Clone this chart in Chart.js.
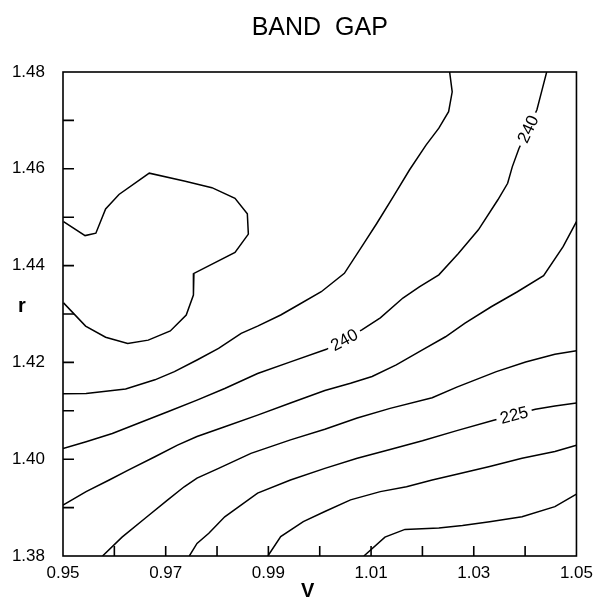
<!DOCTYPE html>
<html><head><meta charset="utf-8">
<script src="https://cdn.jsdelivr.net/npm/chart.js@4.4.0/dist/chart.umd.min.js"></script>
<style>html,body{margin:0;padding:0;background:#fff;}</style>
</head><body>
<canvas id="c" width="600" height="600"></canvas>
<script>
// ---- texts & ticks ----
const titleText = 'BAND  GAP';
const xTitle = 'V';
const yTitle = 'r';
const xTickLabels = ['0.95','0.97','0.99','1.01','1.03','1.05'];
const yTickLabels = ['1.38','1.40','1.42','1.44','1.46','1.48'];
const xTickMarks = [0.96,0.97,0.98,0.99,1.00,1.01,1.02,1.03,1.04];
const yTickMarks = [1.39,1.40,1.41,1.42,1.43,1.44,1.45,1.46,1.47];

// ---- contour lines (V, r) ----
const c1V = [0.9501,0.9543,0.9564,0.9583,0.9609,0.9668,0.9736,0.9790,0.9835,0.9859,0.9861,0.9835,0.9755,0.9754,0.9740,0.9709,0.9666,0.9626,0.9583,0.9544,0.9501];
const c1R = [1.4491,1.4462,1.4467,1.4517,1.4547,1.4591,1.4575,1.4561,1.4539,1.4507,1.4465,1.4427,1.4384,1.4339,1.4298,1.4265,1.4246,1.4239,1.4252,1.4275,1.4323];

const c2V = [1.0253,1.0258,1.0251,1.0232,1.0207,1.0175,1.0143,1.0111,1.0086,1.0048,1.0003,0.9952,0.9924,0.9879,0.9847,0.9803,0.9761,0.9717,0.9679,0.9622,0.9545,0.9500];
const c2R = [1.4800,1.4759,1.4718,1.4684,1.4649,1.4598,1.4542,1.4487,1.4446,1.4384,1.4346,1.4315,1.4298,1.4275,1.4260,1.4229,1.4205,1.4181,1.4164,1.4145,1.4136,1.4135];

const c3V = [1.0442,1.0433,1.0423,1.0388,1.0375,1.0366,1.0347,1.0309,1.0270,1.0232,1.0194,1.0162,1.0118,1.0082,1.0013,0.9943,0.9879,0.9815,0.9761,0.9704,0.9653,0.9596,0.9545,0.9500];
const c3R = [1.4800,1.4763,1.4722,1.4642,1.4604,1.4570,1.4536,1.4474,1.4425,1.4381,1.4356,1.4333,1.4292,1.4267,1.4227,1.4201,1.4177,1.4146,1.4122,1.4098,1.4077,1.4053,1.4036,1.4022];

const c4V = [1.0500,1.0474,1.0436,1.0385,1.0334,1.0283,1.0245,1.0200,1.0149,1.0102,1.0060,1.0010,0.9943,0.9879,0.9815,0.9761,0.9723,0.9679,0.9628,0.9590,0.9545,0.9500];
const c4R = [1.4491,1.4439,1.4379,1.4346,1.4315,1.4281,1.4253,1.4226,1.4195,1.4171,1.4157,1.4142,1.4116,1.4091,1.4067,1.4047,1.4029,1.4005,1.3978,1.3957,1.3933,1.3905];

const c5V = [1.0500,1.0458,1.0401,1.0344,1.0267,1.0219,1.0137,1.0073,1.0010,0.9943,0.9866,0.9803,0.9761,0.9736,0.9704,0.9660,0.9615,0.9577];
const c5R = [1.4224,1.4217,1.4201,1.4181,1.4149,1.4127,1.4105,1.4085,1.4062,1.4040,1.4012,1.3981,1.3961,1.3943,1.3916,1.3878,1.3839,1.3800];

const c6V = [1.0500,1.0458,1.0420,1.0337,1.0267,1.0200,1.0137,1.0073,1.0010,0.9943,0.9879,0.9815,0.9784,0.9761,0.9746];
const c6R = [1.4116,1.4110,1.4103,1.4080,1.4059,1.4038,1.4020,1.4002,1.3981,1.3957,1.3930,1.3881,1.3847,1.3826,1.3800];

const c7V = [1.0500,1.0458,1.0394,1.0331,1.0267,1.0219,1.0169,1.0118,1.0060,1.0010,0.9968,0.9924,0.9899];
const c7R = [1.4029,1.4016,1.4002,1.3985,1.3969,1.3957,1.3943,1.3933,1.3916,1.3892,1.3871,1.3840,1.3800];

const c8V = [1.0500,1.0458,1.0394,1.0331,1.0278,1.0232,1.0166,1.0127,1.0086];
const c8R = [1.3928,1.3902,1.3881,1.3871,1.3863,1.3858,1.3855,1.3839,1.3800];

// contour labels: text, line index, segment index
const labelTexts = ['240','240','225'];
const labelLines = [2,2,5];
const labelSegs  = [2,13,2];

const lines = [[c1V,c1R],[c2V,c2R],[c3V,c3R],[c4V,c4R],[c5V,c5R],[c6V,c6R],[c7V,c7R],[c8V,c8R]];
const FONT = '"Liberation Sans", Arial, Helvetica, sans-serif';

const decor = {
  id: 'decor',
  afterDatasetsDraw(chart) {
    const ctx = chart.ctx;
    labelTexts.forEach((t, i) => {
      const meta = chart.getDatasetMeta(labelLines[i]);
      const p0 = meta.data[labelSegs[i]], p1 = meta.data[labelSegs[i] + 1];
      let ang = Math.atan2(p1.y - p0.y, p1.x - p0.x);
      if (ang > Math.PI / 2) ang -= Math.PI;
      if (ang < -Math.PI / 2) ang += Math.PI;
      const cx = (p0.x + p1.x) / 2, cy = (p0.y + p1.y) / 2;
      ctx.save();
      ctx.translate(cx, cy);
      ctx.rotate(ang);
      ctx.font = '17px ' + FONT;
      const w = ctx.measureText(t).width;
      ctx.fillStyle = '#fff';
      ctx.fillRect(-w / 2 - 4, -8, w + 8, 16);
      ctx.fillStyle = '#000';
      ctx.textAlign = 'center';
      ctx.textBaseline = 'middle';
      ctx.fillText(t, 0, 1);
      ctx.restore();
    });
  },
  afterDraw(chart) {
    const { ctx, chartArea: a, scales } = chart;
    const x = scales.x, y = scales.y;
    ctx.save();
    ctx.strokeStyle = '#000';
    ctx.lineWidth = 1.6;
    ctx.strokeRect(a.left, a.top, a.right - a.left, a.bottom - a.top);
    ctx.beginPath();
    xTickMarks.forEach(v => { const px = x.getPixelForValue(v); ctx.moveTo(px, a.bottom); ctx.lineTo(px, a.bottom - 10); });
    yTickMarks.forEach(v => { const py = y.getPixelForValue(v); ctx.moveTo(a.left, py); ctx.lineTo(a.left + 11, py); });
    ctx.stroke();
    ctx.fillStyle = '#000';
    ctx.textAlign = 'center';
    ctx.textBaseline = 'middle';
    ctx.font = '25px ' + FONT;
    ctx.fillText(titleText, (a.left + a.right) / 2, 28);
    ctx.font = 'bold 20px ' + FONT;
    ctx.fillText(xTitle, (a.left + a.right) / 2 - 12, 591);
    ctx.fillText(yTitle, 22, 306);
    ctx.restore();
  }
};

new Chart(document.getElementById('c'), {
  type: 'scatter',
  data: {
    datasets: lines.map(([vs, rs]) => ({
      data: vs.map((v, i) => ({ x: v, y: rs[i] })),
      showLine: true,
      borderColor: '#000',
      borderWidth: 1.5,
      pointRadius: 0,
      tension: 0,
      fill: false
    }))
  },
  options: {
    responsive: false,
    animation: false,
    devicePixelRatio: 1,
    layout: { padding: { top: 72, right: 13, left: 0, bottom: 0 } },
    plugins: { legend: { display: false }, tooltip: { enabled: false }, title: { display: false } },
    scales: {
      x: {
        type: 'linear', min: 0.95, max: 1.05,
        afterBuildTicks: s => { s.ticks = xTickLabels.map(t => ({ value: parseFloat(t) })); },
        afterFit: s => { s.height = 44; },
        grid: { display: false, drawTicks: false },
        border: { display: false },
        ticks: {
          autoSkip: false, maxRotation: 0, padding: 7, color: '#000',
          font: { family: FONT, size: 17 },
          callback: (v, i) => xTickLabels[i]
        }
      },
      y: {
        type: 'linear', min: 1.38, max: 1.48,
        afterBuildTicks: s => { s.ticks = yTickLabels.map(t => ({ value: parseFloat(t) })); },
        afterFit: s => { s.width = 63; },
        grid: { display: false, drawTicks: false },
        border: { display: false },
        ticks: {
          autoSkip: false, padding: 18, color: '#000',
          font: { family: FONT, size: 17 },
          callback: (v, i) => yTickLabels[i]
        }
      }
    }
  },
  plugins: [decor]
});
</script>
</body></html>
